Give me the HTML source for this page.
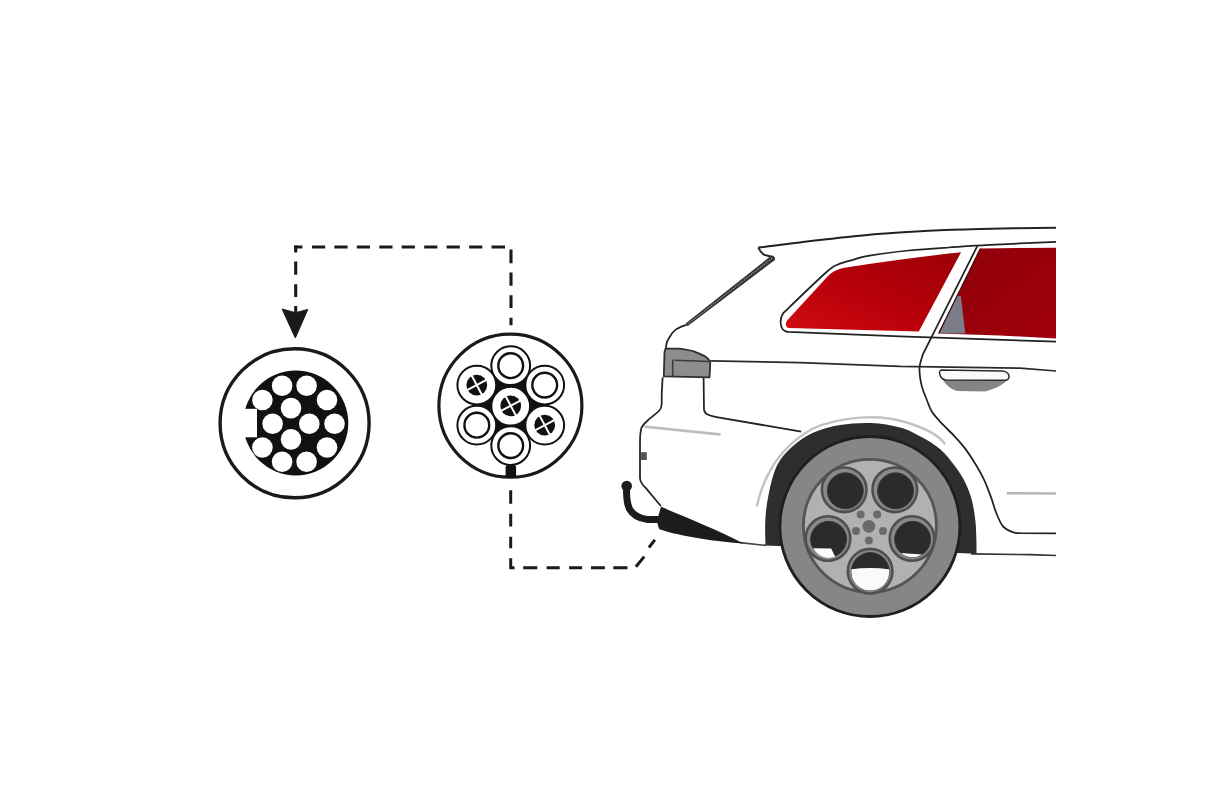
<!DOCTYPE html>
<html><head><meta charset="utf-8"><style>
html,body{margin:0;padding:0;background:#fff;width:1214px;height:809px;overflow:hidden;font-family:"Liberation Sans",sans-serif}
svg{display:block}
</style></head><body>
<svg width="1214" height="809" viewBox="0 0 1214 809">
<rect x="0" y="0" width="1214" height="809" fill="#fff"/>

<!-- dashed connector top -->
<g fill="none" stroke="#1a1a1a" stroke-width="3.1">
  <path d="M294.2,247 H302.4 M312,247 H325.2 M334.4,247 H347.6 M356.8,247 H370 M379.3,247 H392.5 M401.7,247 H414.9 M424.2,247 H437.4 M446.6,247 H459.8 M469.1,247 H482.3 M491.5,247 H505"/>
  <path d="M295.7,245.6 V252.5 M295.7,261.5 V274.8 M295.7,284.3 V297 M295.7,306 V313"/>
  <path d="M511,249.5 V263.2 M511,272.4 V285.8 M511,295.2 V308 M511,317.8 V325.3"/>
</g>
<path d="M282.1,309 L295.5,312.7 L307.8,309.4 L295.3,338 Z" fill="#1a1a1a" stroke="#1a1a1a" stroke-width="1" stroke-linejoin="round"/>

<!-- dashed connector bottom -->
<g fill="none" stroke="#1a1a1a" stroke-width="3">
  <path d="M510.7,490.3 V503.7 M510.7,513.8 V526.6 M510.7,536.7 V548.3 M510.7,558.3 V567.8 H514.5 M523.2,567.8 H537.3 M546.6,567.8 H559.7 M569.1,567.8 H582.1 M591,567.8 H604.9 M613.3,567.8 H627.5 M635.9,566.8 L644.2,556.6 M648.9,547.5 L654.9,539.9"/>
</g>

<!-- 13 pin socket -->
<g>
  <circle cx="294.6" cy="423.3" r="74.5" fill="#fff" stroke="#1a1a1a" stroke-width="3.4"/>
  <circle cx="295.8" cy="423" r="52.5" fill="#111"/>
  <rect x="240" y="408.8" width="17" height="28.5" fill="#fff"/>
  <g fill="#fff">
    <circle cx="282.1" cy="385.7" r="10.3"/>
    <circle cx="306.6" cy="385.7" r="10.3"/>
    <circle cx="262.4" cy="400" r="10.3"/>
    <circle cx="327" cy="400" r="10.3"/>
    <circle cx="291" cy="408.1" r="10.3"/>
    <circle cx="272.6" cy="423.7" r="10.3"/>
    <circle cx="309.3" cy="423.7" r="10.3"/>
    <circle cx="334.5" cy="423.7" r="10.3"/>
    <circle cx="291" cy="439.4" r="10.3"/>
    <circle cx="262.4" cy="447.5" r="10.3"/>
    <circle cx="327" cy="447.5" r="10.3"/>
    <circle cx="282.1" cy="461.8" r="10.3"/>
    <circle cx="306.6" cy="461.8" r="10.3"/>
  </g>
</g>

<!-- 7 pin socket -->
<g>
  <circle cx="510.4" cy="405.7" r="71.5" fill="#fff" stroke="#1a1a1a" stroke-width="3.2"/>
  <path d="M510.7,365.7 L544.7,385.1 L544.7,425.2 L510.7,445.6 L476.8,425.2 L476.8,385.1 Z" fill="#111"/>
  <rect x="505.6" y="465" width="10.5" height="13" rx="2" fill="#111"/>
  <g id="pinA" stroke="#111" fill="#fff">
    <circle cx="510.7" cy="365.7" r="19.4" stroke-width="2"/>
    <circle cx="510.7" cy="365.7" r="12.4" stroke-width="2.4"/>
  </g>
  <g stroke="#111" fill="#fff">
    <circle cx="544.7" cy="385.1" r="19.4" stroke-width="2"/>
    <circle cx="544.7" cy="385.1" r="12.4" stroke-width="2.4"/>
    <circle cx="476.8" cy="425.2" r="19.4" stroke-width="2"/>
    <circle cx="476.8" cy="425.2" r="12.4" stroke-width="2.4"/>
    <circle cx="510.7" cy="445.6" r="19.4" stroke-width="2"/>
    <circle cx="510.7" cy="445.6" r="12.4" stroke-width="2.4"/>
    <circle cx="476.8" cy="385.1" r="19.4" stroke-width="2"/>
    <circle cx="510.7" cy="406.2" r="19.4" stroke-width="2"/>
    <circle cx="544.7" cy="425.2" r="19.4" stroke-width="2"/>
  </g>
  <g fill="#111">
    <circle cx="476.8" cy="385.1" r="10.4"/>
    <circle cx="510.7" cy="405.8" r="10.4"/>
    <circle cx="544.7" cy="425.2" r="10.4"/>
  </g>
  <g stroke="#fff" stroke-width="2">
    <g transform="translate(476.8 385.1) rotate(-28)"><path d="M-12,0 H12 M0,-12 V12"/></g>
    <g transform="translate(510.7 405.8) rotate(-28)"><path d="M-12,0 H12 M0,-12 V12"/></g>
    <g transform="translate(544.7 425.2) rotate(-28)"><path d="M-12,0 H12 M0,-12 V12"/></g>
  </g>
</g>

<!-- CAR -->
<g id="car">
  <defs>
    <linearGradient id="red1" x1="0" y1="1" x2="1" y2="0">
      <stop offset="0" stop-color="#d00c10"/>
      <stop offset="0.45" stop-color="#b8000a"/>
      <stop offset="1" stop-color="#9c0008"/>
    </linearGradient>
    <linearGradient id="red2" x1="0" y1="0" x2="1" y2="1">
      <stop offset="0" stop-color="#8e0008"/>
      <stop offset="1" stop-color="#a0000c"/>
    </linearGradient>
  </defs>
  <!-- window frame -->
  <path d="M1056,341.6 L900,336.4 L788,331.8 C784,331.5 782.5,330 781.5,327 C780.5,324 780,318 783.3,313 C790.4,306.2 816.9,280.6 826.0,272.5 C835.1,264.4 833.5,266.6 838.0,264.5 C842.5,262.4 847.8,261.3 853.0,259.8 C858.2,258.3 860.2,257.1 869.5,255.6 C878.8,254.0 895.8,251.8 909.0,250.5 C922.2,249.2 935.1,248.4 948.6,247.5 C962.1,246.6 972.1,245.8 990.0,244.9 C1007.9,244.0 1045.0,242.3 1056.0,241.8" fill="#fff" stroke="#222" stroke-width="1.75"/>
  <path d="M788.5,328 C785.5,327.5 785,323 787.5,320 L828,276 C833,271 838,269 846,267.5 Q900,259 961.1,252.2 L918.8,331.4 Z" fill="url(#red1)"/>
  <path d="M980.4,248.5 L1056,247.7 L1056,338.6 L1000,335.4 L938.6,333.4 Z" fill="url(#red2)"/>
  <path d="M956.5,296 L960.8,296 L965.3,333.6 L939.6,333.4 Z" fill="#7c7d8a"/>
  <path d="M980.4,248.5 L938.6,333.4" stroke="#3a0a0a" stroke-width="1.2"/>
  <!-- B pillar + door line -->
  <path d="M977.4,245.9 L923,354 C922.4,356.3 919.7,362.8 919.5,368.0 C919.3,373.2 920.4,380.1 921.6,385.4 C922.8,390.7 925.1,395.6 926.9,400.0 C928.6,404.4 929.5,408.1 932.1,412.1 C934.7,416.1 938.8,420.2 942.5,424.2 C946.2,428.2 950.9,432.3 954.6,436.3 C958.4,440.3 961.5,443.8 965.0,448.4 C968.5,453.0 972.2,458.8 975.4,464.0 C978.6,469.2 981.4,474.1 984.0,479.6 C986.6,485.1 988.9,491.4 990.9,496.9 C992.9,502.4 994.1,507.6 996.1,512.5 C998.1,517.4 1000.1,523.0 1003.0,526.3 C1005.9,529.6 1010.6,531.2 1013.4,532.4 C1016.2,533.5 1018.9,533.1 1020.0,533.2 L1056,533.3" fill="none" stroke="#222" stroke-width="1.75"/>
  <!-- roof line -->
  <path d="M758.3,247.6 C761.2,247.3 768.5,246.5 775.5,245.6 C782.5,244.7 791.5,243.5 800.0,242.4 C808.5,241.3 813.6,240.6 826.6,239.2 C839.6,237.8 860.7,235.4 877.7,234.0 C894.7,232.6 911.8,231.5 928.8,230.7 C945.8,229.8 958.6,229.4 979.8,228.9 C1001.0,228.4 1043.3,227.9 1056.0,227.7" fill="none" stroke="#222" stroke-width="2"/>
  <path d="M758.3,247.6 C759.5,250 761,252.5 763.3,254.3 C766,255.5 769,256 772,257" fill="none" stroke="#222" stroke-width="2"/>
  <!-- rear window hatched -->
  <path d="M771.4,255.6 C774,255.5 776,258 774.6,260.2 L687.5,326.2 L685.5,323.4 Z" fill="#333"/>
  <path d="M772,258.3 L687,324.6" fill="none" stroke="#a0a0a0" stroke-width="1.3" stroke-dasharray="1.1 1.2"/>
  <!-- rear outline -->
  <path d="M686.5,324.8 C682,326 679,327.5 676.7,328.9 C673,331.5 671,334 669.8,336.8 C667.5,340 666.5,343 666.3,344.7 L665.8,349" fill="none" stroke="#222" stroke-width="1.75"/>
  <!-- tail light -->
  <path d="M665.5,348.7 L679.7,348.7 C686,349.5 691,350.5 694.5,351.7 C699,353.5 703,355 705.4,356.6 C708,358.5 709.5,360.5 710.3,362.5 L709.5,377.4 L663.8,376.4 L664.5,352 Z" fill="#8d8d8f" stroke="#2e2e2e" stroke-width="1.8" stroke-linejoin="round"/>
  <path d="M674.7,360.3 L709.3,361.6" stroke="#3a3a3a" stroke-width="1.5"/>
  <path d="M672.7,359.6 L672.7,376.4" stroke="#3a3a3a" stroke-width="1.5"/>
  <!-- body left outline -->
  <path d="M662.6,377.4 L661.7,395 L661.7,404.3 C661.5,407 660.8,409 659.4,410.5 C656,414 652,416.5 648.5,419.7 C645,422.5 643,425 641.6,427.5 C640.5,431 640,436 640,441.4 L640,478.5 C640.5,482 642.5,485 645.5,487.7 L661,506.3" fill="none" stroke="#222" stroke-width="1.75"/>
  <!-- crease -->
  <path d="M703.6,378 L704,409.7 C704.5,412 706,414 708.8,415 C711.5,416 714.5,416.8 718,417.4 L801.2,431.6" fill="none" stroke="#222" stroke-width="1.75"/>
  <!-- beltline -->
  <path d="M710.3,360.8 L800,362.6 L900,366.4 L1020,368.1 L1056,371" fill="none" stroke="#2a2a2a" stroke-width="1.75"/>
  <!-- grey highlight rear -->
  <path d="M645.5,426.7 L719.6,434.4" stroke="#bcbcbc" stroke-width="2.6" stroke-linecap="round"/>
  <rect x="640.8" y="452.2" width="6" height="7.8" fill="#555"/>
  <!-- door handle -->
  <path d="M941,377 C945,384 950,389 957,391 L985,391.5 C995,389 1003,385 1006.5,380.5 Z" fill="#858585"/>
  <path d="M941,370 L1002,371 C1010,371.5 1011,379 1006,380.2 L946,380 C940,379.5 938,372 941,370 Z" fill="#fafafa" stroke="#2a2a2a" stroke-width="1.5"/>
  <!-- sill lines -->
  <path d="M1006.8,493.2 L1056,493.5" stroke="#b5b5b5" stroke-width="2.5"/>
  <path d="M971,553.8 L1030,554.7 L1056,555.5" stroke="#333" stroke-width="1.7"/>
  <path d="M740,542.6 L766,545.4" stroke="#444" stroke-width="1.6"/>
  <!-- arch flare -->
  <path d="M756.7,506.4 C765,470 785,444 812,429 C840,416 880,414 905,422 C925,428 940,436 945,444.3" fill="none" stroke="#c2c2c2" stroke-width="2.4"/>
  <!-- arch dark -->
  <path d="M765.5,545.4 C765.5,541.3 764.8,529.4 765.3,521.0 C765.8,512.6 766.5,504.2 768.5,495.0 C770.5,485.8 772.9,473.8 777.0,465.6 C781.1,457.4 786.8,451.6 793.0,446.0 C799.2,440.4 806.4,435.8 814.2,432.3 C822.0,428.8 830.5,426.6 840.0,425.0 C849.5,423.4 861.0,422.6 871.0,423.0 C881.0,423.4 891.8,425.3 900.0,427.5 C908.2,429.7 913.3,432.7 920.0,436.3 C926.7,439.9 934.2,444.1 940.0,449.0 C945.8,453.9 950.4,460.2 954.6,465.7 C958.8,471.2 962.1,476.2 965.0,482.0 C967.9,487.8 970.2,493.8 971.9,500.3 C973.6,506.8 974.7,515.0 975.4,521.1 C976.1,527.2 976.1,531.5 976.3,537.0 C976.5,542.5 976.5,551.0 976.6,553.8 Z" fill="#2e2e2e"/>
  <!-- tire -->
  <circle cx="869.9" cy="526.5" r="90" fill="#868686" stroke="#1f1f1f" stroke-width="2.8"/>
  <!-- rim -->
  <circle cx="869.9" cy="525.8" r="66.5" fill="#b1b1b1" stroke="#555" stroke-width="2.8"/>
  <g fill="#8a8a8a" stroke="#505050" stroke-width="2.6">
    <circle cx="844.2" cy="489.8" r="22.3"/>
    <circle cx="894.8" cy="489.8" r="22.3"/>
    <circle cx="828" cy="538.5" r="22.3"/>
    <circle cx="912" cy="538.5" r="22.3"/>
    <circle cx="870.1" cy="571.2" r="22.3"/>
  </g>
  <g fill="#2d2a2a" stroke="#3a3a3a" stroke-width="1">
    <circle cx="845.3" cy="490.8" r="18"/>
    <circle cx="895.6" cy="490.8" r="18"/>
    <circle cx="828.6" cy="539.3" r="18"/>
    <circle cx="912.6" cy="539.3" r="18"/>
    <circle cx="870.3" cy="571.6" r="19"/>
  </g>
  <!-- white reflections -->
  <g fill="#fafafa">
    <path d="M813.1,548.3 L831.2,548.6 L835.2,556.8 A18,18 0 0 1 813.1,548.3 Z"/>
    <path d="M900.9,553 L922.2,554.5 A18,18 0 0 1 900.9,553 Z"/>
    <path d="M851.45,569.2 Q870,566.8 889.15,569.2 A19,19 0 1 1 851.45,569.2 Z"/>
  </g>
  <g fill="#6a6a6a">
    <circle cx="868.9" cy="526.3" r="6.4"/>
    <circle cx="860.7" cy="514.5" r="4"/>
    <circle cx="877.2" cy="514.5" r="4"/>
    <circle cx="856" cy="531" r="4"/>
    <circle cx="883" cy="531" r="4"/>
    <circle cx="868.9" cy="540.4" r="4"/>
  </g>
  <!-- tow bar -->
  <path d="M661,506.8 C690,519 720,531 743.4,543.5 C730,542.5 715,541 700,538.5 C685,536 670,533 659.4,529.3 C658,526 657,523 657.5,519 Z" fill="#1e1b1c"/>
  <path d="M659,519.4 L647,519.4 C640,518.5 633,515 629.5,509 C627,504 626.5,498 626.5,490" fill="none" stroke="#1e1b1c" stroke-width="7"/>
  <circle cx="626.7" cy="486.1" r="5.3" fill="#1e1b1c"/>
</g>
</svg>
</body></html>
